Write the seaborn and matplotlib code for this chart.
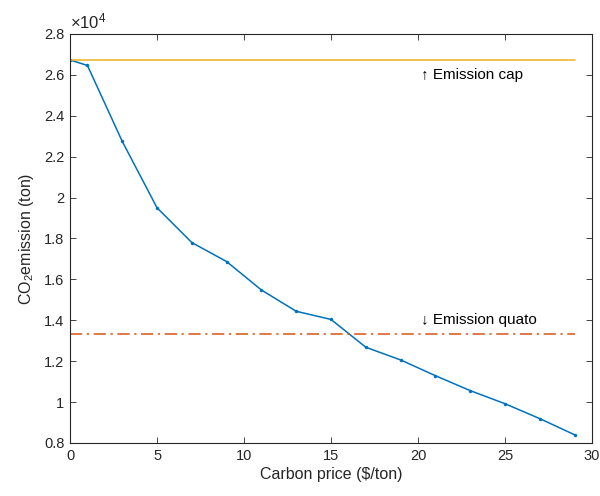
import numpy as np
import pandas as pd
import matplotlib
matplotlib.use("Agg")
import matplotlib.pyplot as plt
import seaborn as sns

# Data (tons)
carbon_price = [0, 1, 3, 5, 7, 9, 11, 13, 15, 17, 19, 21, 23, 25, 27, 29]
emission = [26730, 26460, 22750, 19500, 17800, 16870, 15480, 14440, 14040,
            12680, 12060, 11290, 10560, 9920, 9190, 8400]
emission_cap = 26730
emission_quota = 13340
x_ticks = [0, 5, 10, 15, 20, 25, 30]
y_ticks = [0.8, 1.0, 1.2, 1.4, 1.6, 1.8, 2.0, 2.2, 2.4, 2.6, 2.8]
y_tick_labels = ["0.8", "1", "1.2", "1.4", "1.6", "1.8", "2", "2.2", "2.4", "2.6", "2.8"]

scale = 1e4
sns.set_style("ticks")
plt.rcParams['font.family'] = ['Liberation Sans', 'DejaVu Sans']
plt.rcParams['mathtext.fontset'] = 'custom'
plt.rcParams['mathtext.rm'] = 'Liberation Sans'
plt.rcParams['mathtext.it'] = 'Liberation Sans:italic'

axcol = '#262626'
fig = plt.figure(figsize=(6.0, 4.96), dpi=100)
ax = fig.add_axes([0.1167, 0.1069, 0.87, 0.8246])

df = pd.DataFrame({"price": carbon_price, "em": np.array(emission) / scale})
xline = [carbon_price[0], carbon_price[-1]]
cap_df = pd.DataFrame({"price": xline, "em": [emission_cap / scale] * 2})
quota_df = pd.DataFrame({"price": xline, "em": [emission_quota / scale] * 2})

sns.lineplot(data=df, x="price", y="em", ax=ax, color="#0072BD", lw=1.1,
             marker="o", markersize=2.5, markeredgewidth=0)
sns.lineplot(data=cap_df, x="price", y="em", ax=ax, color="#EDB120", lw=1.1)
sns.lineplot(data=quota_df, x="price", y="em", ax=ax, color="#D95319", lw=1.1,
             linestyle=(0, (8, 3, 1.5, 3)))

ax.text(20.2, 2.6, "↑ Emission cap", fontsize=11, va="center", ha="left",
        color="black", family=['Liberation Sans', 'DejaVu Sans'])
ax.text(20.2, 1.4, "↓ Emission quato", fontsize=11, va="center", ha="left",
        color="black", family=['Liberation Sans', 'DejaVu Sans'])

ax.set_xlim(0, 30)
ax.set_ylim(0.8, 2.8)
ax.set_xticks(x_ticks)
ax.set_xticklabels([str(v) for v in x_ticks])
ax.set_yticks(y_ticks)
ax.set_yticklabels(y_tick_labels)
ax.tick_params(direction="in", top=True, right=True, length=4, width=0.6,
               colors=axcol, labelsize=10.5, pad=4)
for s in ax.spines.values():
    s.set_color(axcol)
    s.set_linewidth(0.8)
ax.set_xlabel("Carbon price ($/ton)", fontsize=11.5, color=axcol, labelpad=3)
ax.set_ylabel("CO$_2$emission (ton)", fontsize=11.5, color=axcol, labelpad=6)
ax.text(0.0, 1.006, r"$\times10^4$", transform=ax.transAxes, fontsize=12,
        color=axcol, va="bottom", ha="left")

fig.savefig("out.png", dpi=100)
